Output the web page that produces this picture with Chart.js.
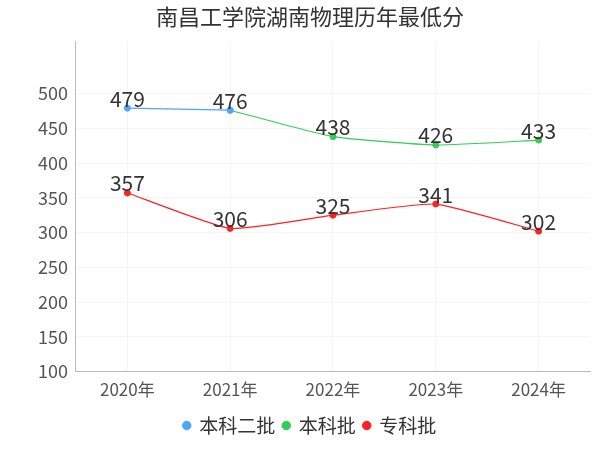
<!DOCTYPE html>
<html><head><meta charset="utf-8">
<script src="https://cdn.jsdelivr.net/npm/chart.js"></script>
<style>body{margin:0;background:#fff}#w{width:600px;height:450px}</style>
</head><body><div id="w"><canvas id="c"></canvas></div>
<script>
const categories=['2020年','2021年','2022年','2023年','2024年'];
const erpi=[479,476,null,null,null];
const benke=[null,476,438,426,433];
const zhuanke=[357,306,325,341,302];
const yTicks=[100,550,50];
const F='"Noto Sans CJK SC","Noto Sans",sans-serif';
const labels={id:'labels',afterDatasetsDraw(ch){
  const ctx=ch.ctx;const seen=new Set();
  ctx.save();ctx.font='21px '+F;ctx.fillStyle='#333';ctx.textAlign='center';ctx.textBaseline='bottom';
  ch.data.datasets.forEach((ds,i)=>{ch.getDatasetMeta(i).data.forEach((p,j)=>{
    const v=ds.data[j];if(v==null)return;const k=j+'-'+v;if(seen.has(k))return;seen.add(k);
    ctx.fillText(v,p.x,p.y+1);});});
  ctx.restore();}};
new Chart(document.getElementById('c'),{type:'line',
 data:{labels:categories,datasets:[
  {label:'本科二批',data:erpi,borderColor:'#4da6ff',backgroundColor:'#4da6ff'},
  {label:'本科批',data:benke,borderColor:'#33cc55',backgroundColor:'#33cc55'},
  {label:'专科批',data:zhuanke,borderColor:'#ff2020',backgroundColor:'#ff2020'}]},
 options:{responsive:true,maintainAspectRatio:false,animation:false,
  elements:{line:{borderWidth:1.2,tension:0.15},point:{radius:3,hoverRadius:3}},
  layout:{padding:{left:30,right:10,top:0,bottom:5}},
  plugins:{title:{display:true,text:'南昌工学院湖南物理历年最低分',font:{family:F,size:22,weight:'normal'},color:'#333',padding:{top:3,bottom:12}},
   legend:{position:'bottom',labels:{usePointStyle:true,pointStyle:'circle',boxWidth:6,boxHeight:6,font:{family:F,size:19},color:'#333',padding:8}},
   tooltip:{enabled:false}},
  scales:{x:{offset:true,grid:{color:'#f5f5f5',drawTicks:false},border:{color:'#bbb'},ticks:{font:{family:F,size:17},color:'#555',padding:8}},
   y:{min:yTicks[0],max:575,grid:{color:'#f5f5f5',drawTicks:false},border:{color:'#bbb'},
    afterBuildTicks(a){a.ticks=a.ticks.filter(t=>t.value<=yTicks[1]);},
    ticks:{stepSize:yTicks[2],font:{family:F,size:18},color:'#555',padding:8}}}},
 plugins:[labels]});
</script></body></html>
